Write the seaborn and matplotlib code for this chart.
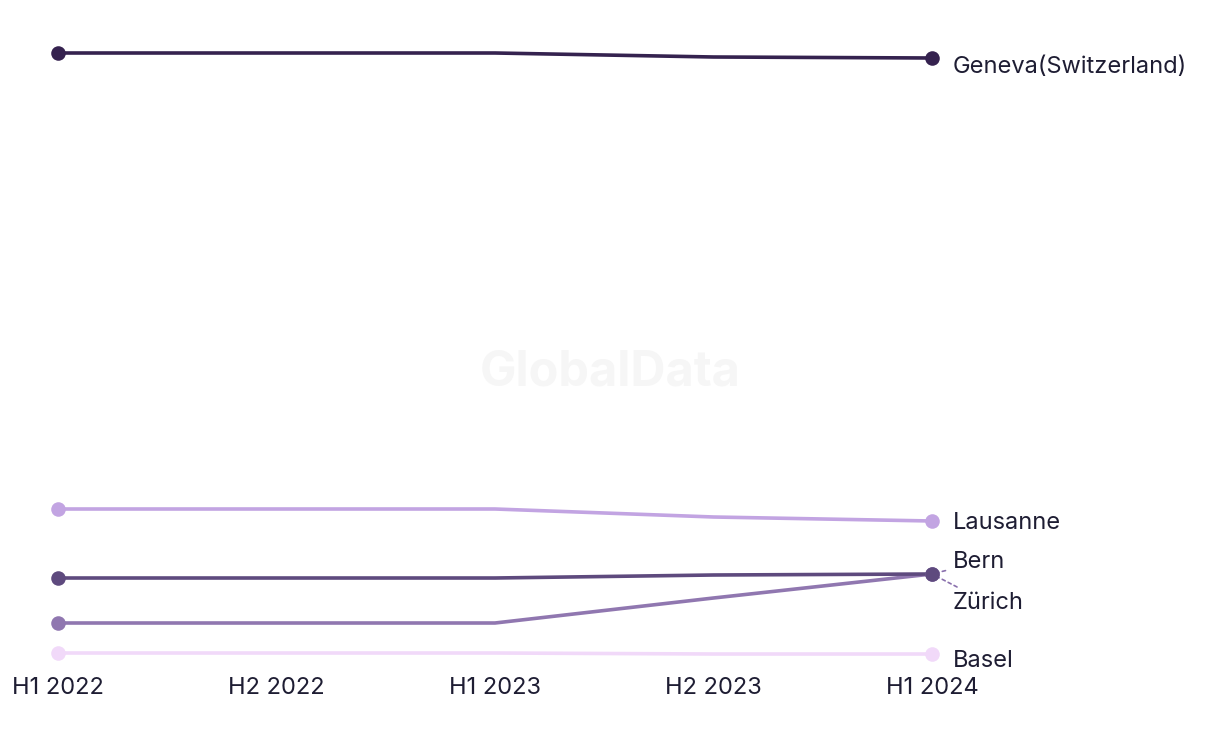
import matplotlib
matplotlib.use("Agg")
import matplotlib.pyplot as plt
import seaborn as sns
import pandas as pd

periods = ["H1 2022", "H2 2022", "H1 2023", "H2 2023", "H1 2024"]
cities = ["Geneva(Switzerland)", "Lausanne", "Bern", "Zürich", "Basel"]
geneva = [60.7, 60.7, 60.7, 60.3, 60.2]
lausanne = [15.1, 15.1, 15.1, 14.3, 13.9]
bern = [8.2, 8.2, 8.2, 8.5, 8.6]
zurich = [3.7, 3.7, 3.7, 6.2, 8.6]
basel = [0.7, 0.7, 0.7, 0.6, 0.6]
series = [geneva, lausanne, bern, zurich, basel]
colors = ["#35224f", "#c2a4e2", "#5e4a7e", "#9077b0", "#f1d9f9"]

rows = []
for c, vals in zip(cities, series):
    for i, (p, v) in enumerate(zip(periods, vals)):
        rows.append({"city": c, "idx": i, "period": p, "value": v})
df = pd.DataFrame(rows)

sns.set_theme(style="white")
plt.rcParams['font.family'] = ['Inter', 'DejaVu Sans']
text_color = "#1e1d33"

fig = plt.figure(figsize=(12.2, 7.44), dpi=100)
ax = fig.add_axes([58/1220, 1-660/744, (932-58)/1220, 620/744])

fig.text(610/1220, 1-373/744, "GlobalData", ha="center", va="center",
         fontsize=35, fontweight="bold", color="#f6f6f6", zorder=0)

draw_order = [4, 3, 1, 2, 0]
plot_cities = [cities[i] for i in draw_order]
plot_colors = {cities[i]: colors[i] for i in range(len(cities))}
sns.lineplot(data=df, x="idx", y="value", hue="city", palette=plot_colors,
             hue_order=plot_cities, linewidth=2.6, legend=False, ax=ax,
             clip_on=False, sort=False)
for k, i in enumerate(draw_order):
    vals = series[i]
    ax.scatter([0, 4], [vals[0], vals[-1]], s=110, color=colors[i], zorder=5 + k,
               clip_on=False, linewidths=0)

ax.set_xlim(0, 4)
ax.set_ylim(0, 62)
ax.set_xticks(range(len(periods)))
ax.set_xticklabels(periods, fontsize=17, color=text_color)
ax.tick_params(axis="x", length=0, pad=12)
ax.set_yticks([])
ax.set_xlabel("")
ax.set_ylabel("")
for s in ax.spines.values():
    s.set_visible(False)

offsets = {"Geneva(Switzerland)": -6.5, "Lausanne": -1.5, "Bern": 8.5,
           "Zürich": -21, "Basel": -5}
for c, vals, col in zip(cities, series, colors):
    dy = offsets[c]
    if c in ("Bern", "Zürich"):
        ax.annotate(c, xy=(4, vals[-1]), xytext=(15, dy), textcoords="offset points",
                    fontsize=17, color=text_color, va="center", ha="left",
                    annotation_clip=False,
                    arrowprops=dict(arrowstyle="-", color="#8a70ad", linestyle=(0, (2, 2)),
                                    lw=1.2, shrinkA=3, shrinkB=3))
    else:
        ax.annotate(c, xy=(4, vals[-1]), xytext=(15, dy), textcoords="offset points",
                    fontsize=17, color=text_color, va="center", ha="left",
                    annotation_clip=False)

fig.savefig("out.png", dpi=100)
